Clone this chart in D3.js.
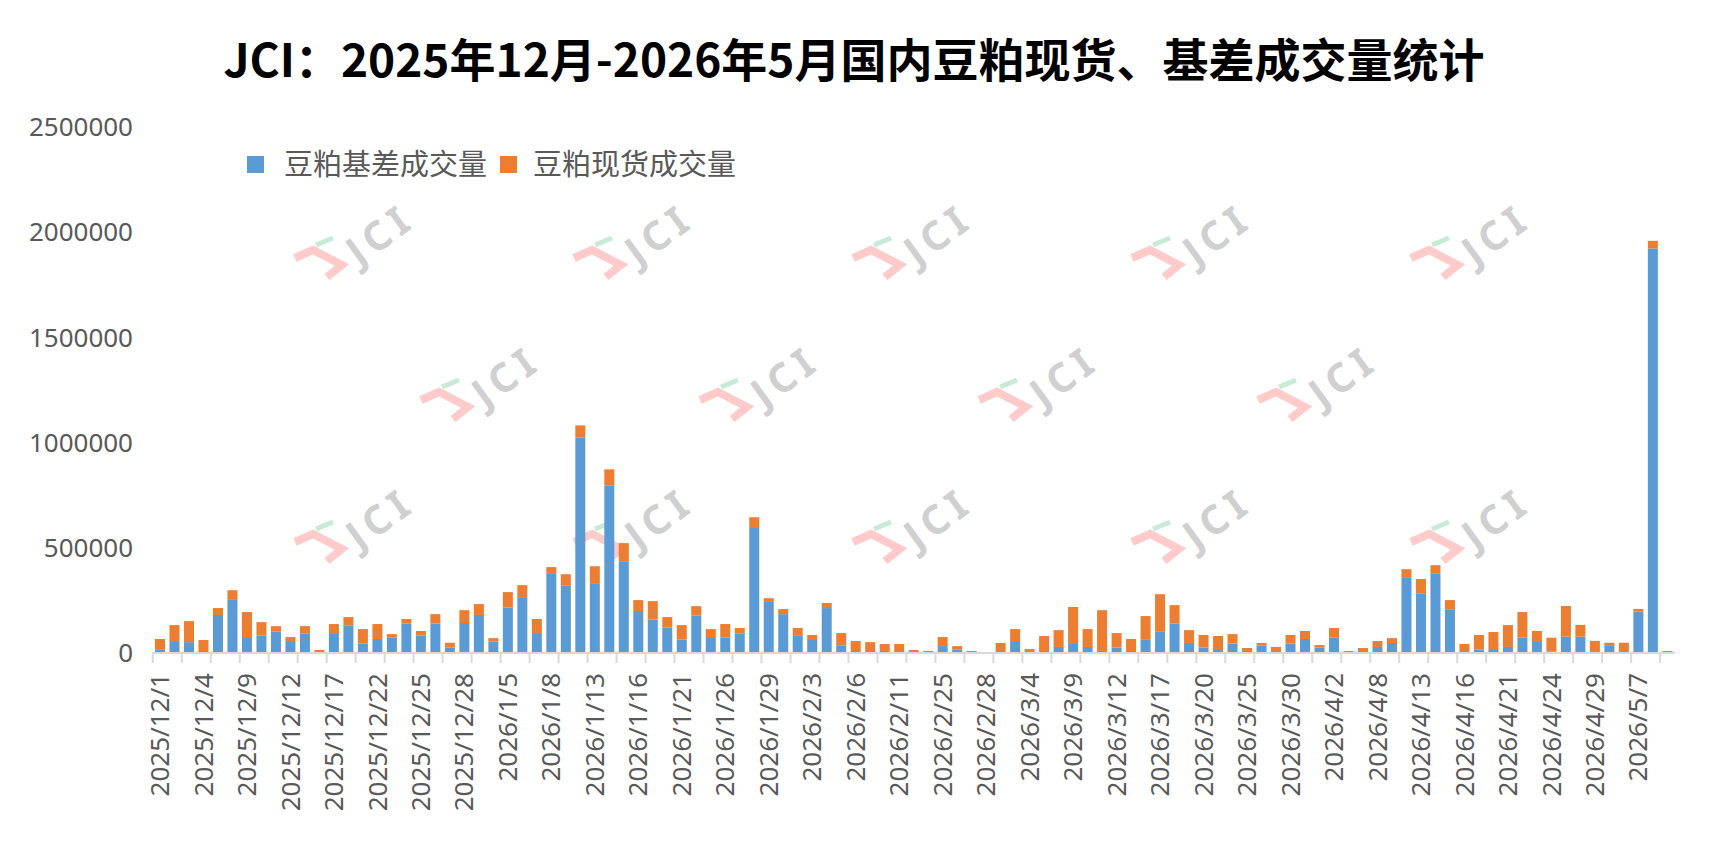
<!DOCTYPE html>
<html>
<head>
<meta charset="utf-8">
<script src="https://cdn.jsdelivr.net/npm/d3@7"></script>
<style>
  body { margin: 0; background: #fff; }
  svg { display: block; }
</style>
</head>
<body>
<script>
const w = 1717;
const h = 857;

// categories (trading days)
const dates = ["2025/12/1","2025/12/2","2025/12/3","2025/12/4","2025/12/5","2025/12/8","2025/12/9","2025/12/10","2025/12/11","2025/12/12",
  "2025/12/15","2025/12/16","2025/12/17","2025/12/18","2025/12/19","2025/12/22","2025/12/23","2025/12/24","2025/12/25","2025/12/26",
  "2025/12/27","2025/12/28","2025/12/30","2025/12/31","2026/1/5","2026/1/6","2026/1/7","2026/1/8","2026/1/9","2026/1/12",
  "2026/1/13","2026/1/14","2026/1/15","2026/1/16","2026/1/19","2026/1/20","2026/1/21","2026/1/22","2026/1/23","2026/1/26",
  "2026/1/27","2026/1/28","2026/1/29","2026/1/30","2026/2/2","2026/2/3","2026/2/4","2026/2/5","2026/2/6","2026/2/9",
  "2026/2/10","2026/2/11","2026/2/12","2026/2/13","2026/2/25","2026/2/26","2026/2/27","2026/2/28","2026/3/2","2026/3/3",
  "2026/3/4","2026/3/5","2026/3/6","2026/3/9","2026/3/10","2026/3/11","2026/3/12","2026/3/13","2026/3/16","2026/3/17",
  "2026/3/18","2026/3/19","2026/3/20","2026/3/23","2026/3/24","2026/3/25","2026/3/26","2026/3/27","2026/3/30","2026/3/31",
  "2026/4/1","2026/4/2","2026/4/3","2026/4/7","2026/4/8","2026/4/9","2026/4/10","2026/4/13","2026/4/14","2026/4/15",
  "2026/4/16","2026/4/17","2026/4/20","2026/4/21","2026/4/22","2026/4/23","2026/4/24","2026/4/27","2026/4/28","2026/4/29",
  "2026/4/30","2026/5/6","2026/5/7","2026/5/8","2026/5/9"];

// 豆粕基差成交量 (blue)
const basisVol = [13000,52000,47000,5000,176000,248000,71000,78000,97000,52000,
  87000,0,90000,125000,40000,62000,68000,135000,78000,135000,
  21000,138000,176000,49000,211000,261000,90000,375000,315000,1021000,
  324000,793000,432000,195000,154000,116000,59000,173000,71000,68000,
  87000,590000,242000,180000,80000,57000,209000,32000,0,0,
  5000,0,0,0,28000,11000,0,0,0,52000,
  0,5000,24000,38000,24000,5000,21000,5000,58000,96000,
  135000,43000,21000,14000,40000,5000,30000,0,40000,62000,
  21000,68000,0,0,24000,43000,356000,277000,372000,201000,
  0,11000,14000,24000,68000,52000,3000,73000,73000,0,
  29000,0,192000,1920000,0];

// 豆粕现货成交量 (orange)
const spotVol = [49000,76000,100000,52000,33000,46000,119000,64000,26000,19000,
  36000,9500,43000,41000,69000,71000,17000,22000,22000,45000,
  23000,61000,52000,17000,74000,57000,67000,29000,55000,57000,
  84000,76000,86000,52000,88000,50000,69000,45000,38000,65000,
  27000,51000,14000,24000,34000,24000,24000,58000,52000,47000,
  33000,38000,9500,5000,43000,17000,5000,0,43000,57000,
  14000,71000,80000,176000,85000,194000,69000,57000,113000,179000,
  88000,61000,60000,62000,45000,14000,13000,24000,41000,38000,
  12000,46000,5000,19000,28000,23000,38000,70000,41000,46000,
  38000,70000,81000,104000,122000,48000,65000,146000,56000,53000,
  15000,44000,13000,36000,5000];

const yTicks = [0, 500000, 1000000, 1500000, 2000000, 2500000];
const seriesNames = ["豆粕基差成交量", "豆粕现货成交量"];
const colours = ["#5b9bd5", "#ed7d31"];

const title = "JCI：2025年12月-2026年5月国内豆粕现货、基差成交量统计";

let svg = d3.select("body").append("svg")
    .attr("width", w)
    .attr("height", h);

let x = d3.scaleBand()
    .domain(dates)
    .range([152.75, 1674.6])
    .paddingInner(0.31)
    .paddingOuter(0.155);

let y = d3.scaleLinear()
    .domain([0, 2500000])
    .range([652, 126.5]);

// watermark logos
function watermark(ox, oy) {
    let g = svg.append("g").attr("transform", "translate(" + ox + "," + oy + ")");
    g.append("polyline")
        .attr("points", "15,63 33,55 62,70 47,82")
        .attr("fill", "none")
        .attr("stroke", "#ffcaca")
        .attr("stroke-width", 8)
        .attr("stroke-linejoin", "miter");
    g.append("line")
        .attr("x1", 36).attr("y1", 50).attr("x2", 53).attr("y2", 43)
        .attr("stroke", "#c8ebd8")
        .attr("stroke-width", 5);
    g.append("text")
        .attr("transform", "translate(79,72) rotate(-36)")
        .attr("font-family", "'Noto Sans', sans-serif")
        .attr("font-weight", "bold")
        .attr("font-size", 40)
        .attr("letter-spacing", 6)
        .attr("fill", "#d0d0d0")
        .text("JCI");
}
[280, 559, 838, 1117, 1396].forEach(ox => watermark(ox, 195));
[406, 685, 964, 1243].forEach(ox => watermark(ox, 337));
[280, 559, 838, 1117, 1396].forEach(ox => watermark(ox, 479));

// stacked bars
let rows = dates.map((d, i) => ({ date: d, basis: basisVol[i], spot: spotVol[i] }));
let stacked = d3.stack().keys(["basis", "spot"])(rows);

svg.append("g")
    .selectAll("g")
    .data(stacked)
    .enter()
    .append("g")
    .attr("fill", (d, i) => colours[i])
    .selectAll("rect")
    .data(d => d)
    .enter()
    .append("rect")
    .attr("x", d => x(d.data.date))
    .attr("width", x.bandwidth())
    .attr("y", d => y(d[1]))
    .attr("height", d => y(d[0]) - y(d[1]));

// y axis labels
let yAxis = svg.append("g")
    .attr("transform", "translate(133,1)")
    .call(d3.axisLeft(y).tickValues(yTicks).tickSize(0).tickPadding(0).tickFormat(d3.format("d")));
yAxis.select(".domain").remove();
yAxis.selectAll("text")
    .attr("font-family", "'Noto Sans', sans-serif")
    .attr("font-size", 26)
    .attr("fill", "#595959");

// x axis line and tick marks between every 2 categories
let gap = x.step() * x.paddingInner() / 2;
svg.append("line")
    .attr("x1", x.range()[0]).attr("x2", x.range()[1])
    .attr("y1", y(0) + 1).attr("y2", y(0) + 1)
    .attr("stroke", "#d9d9d9")
    .attr("stroke-width", 2);
svg.append("g")
    .selectAll("line")
    .data(dates.filter((d, i) => i % 2 === 0))
    .enter()
    .append("line")
    .attr("x1", d => x(d) - gap).attr("x2", d => x(d) - gap)
    .attr("y1", y(0)).attr("y2", y(0) + 11)
    .attr("stroke", "#d9d9d9")
    .attr("stroke-width", 2);

// x labels, every third category
let xAxis = svg.append("g")
    .attr("transform", "translate(0," + y(0) + ")")
    .call(d3.axisBottom(x).tickValues(dates.filter((d, i) => i % 3 === 0)).tickSize(0));
xAxis.select(".domain").remove();
xAxis.selectAll("text")
    .attr("transform", "rotate(-90)")
    .attr("text-anchor", "end")
    .attr("x", -21)
    .attr("y", 0)
    .attr("dy", "0.35em")
    .attr("font-family", "'Noto Sans', sans-serif")
    .attr("font-size", 26)
    .attr("fill", "#595959");

// title
svg.append("text")
    .attr("x", 854)
    .attr("y", 77)
    .attr("text-anchor", "middle")
    .attr("font-family", "'Noto Sans CJK SC', sans-serif")
    .attr("font-weight", "bold")
    .attr("font-size", 46)
    .attr("fill", "#000")
    .text(title);

// legend
let legendX = [247, 500];
let legendTextX = [284, 533];
seriesNames.forEach((name, i) => {
    svg.append("rect")
        .attr("x", legendX[i])
        .attr("y", 156)
        .attr("width", 17)
        .attr("height", 17)
        .attr("fill", colours[i]);
    svg.append("text")
        .attr("x", legendTextX[i])
        .attr("y", 175)
        .attr("font-family", "'Noto Sans CJK SC', sans-serif")
        .attr("font-size", 29)
        .attr("fill", "#595959")
        .text(name);
});
</script>
</body>
</html>
